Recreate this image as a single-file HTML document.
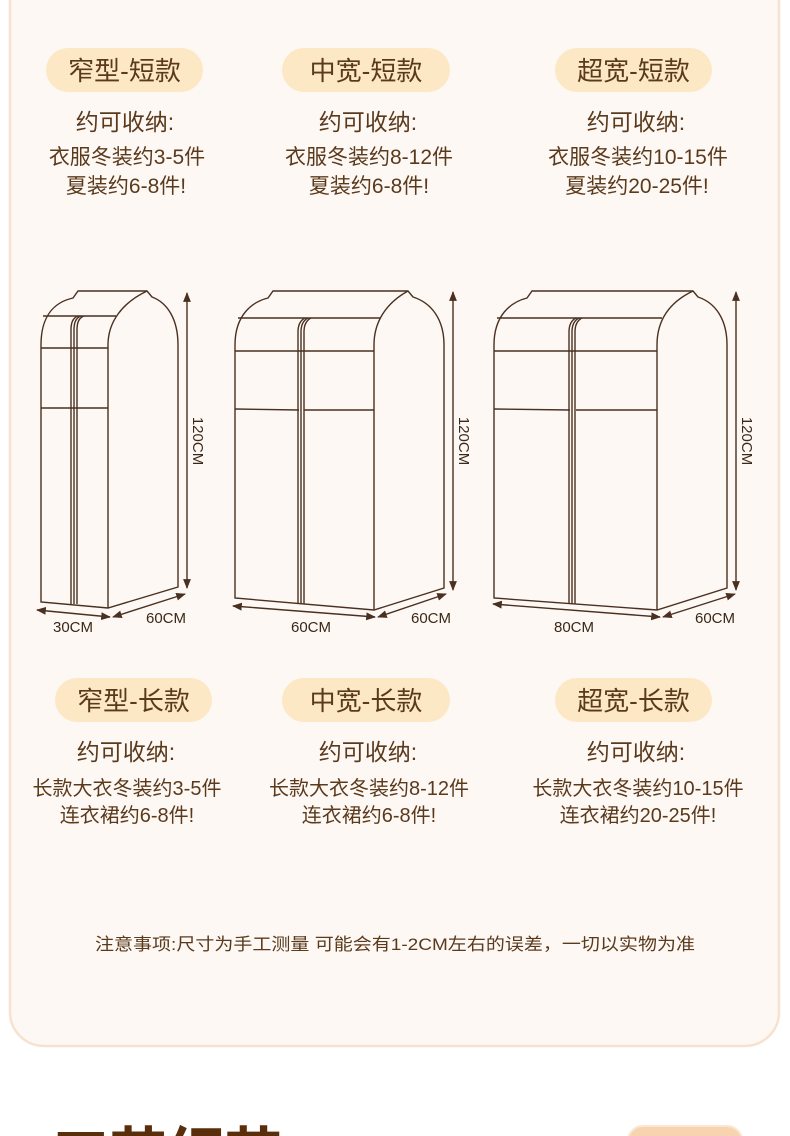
<!DOCTYPE html>
<html><head><meta charset="utf-8"><style>
html,body{margin:0;padding:0;background:#fff;width:790px;height:1136px;overflow:hidden}
svg{display:block}
text{font-family:"Liberation Sans","Noto Sans CJK SC",sans-serif;fill:#5b3a1c}
</style></head><body>
<svg width="790" height="1136" viewBox="0 0 790 1136" xmlns="http://www.w3.org/2000/svg" style="overflow:hidden">
<defs>
<marker id="ar" viewBox="0 0 10 10" refX="9" refY="5" markerWidth="7" markerHeight="7" orient="auto-start-reverse"><path d="M0,1 L10,5 L0,9 Z" fill="#4a3020"/></marker>
</defs>
<rect x="0" y="0" width="790" height="1136" fill="#fff"/>
<rect x="10" y="-40" width="769" height="1086" rx="34" fill="#fdf8f4" stroke="#f6e2cf" stroke-width="2.5"/>

<rect x="46" y="48" width="157" height="44" rx="22" fill="#fde8c6"/>
<rect x="282" y="48" width="168" height="44" rx="22" fill="#fde8c6"/>
<rect x="555" y="48" width="157" height="44" rx="22" fill="#fde8c6"/>
<g font-size="26" text-anchor="middle">
<text x="124.5" y="80">窄型-短款</text>
<text x="366" y="80">中宽-短款</text>
<text x="633.5" y="80">超宽-短款</text>
</g>
<g font-size="23" text-anchor="middle">
<text x="125" y="130">约可收纳:</text>
<text x="368" y="130">约可收纳:</text>
<text x="636" y="130">约可收纳:</text>
</g>
<g font-size="21" text-anchor="middle">
<text x="127" y="164">衣服冬装约3-5件</text>
<text x="126" y="193">夏装约6-8件!</text>
<text x="369" y="164">衣服冬装约8-12件</text>
<text x="369" y="193">夏装约6-8件!</text>
<text x="638" y="164">衣服冬装约10-15件</text>
<text x="637" y="193">夏装约20-25件!</text>
</g>

<g fill="none" stroke="#4a3020" stroke-width="1.4">
<path d="M41,602 L41,345 C41,315 55,302 73,298 L78,291 L147,291 L152,297 C168,303 178,320 178,345 L178,587 L108,608 L41,602 Z" fill="#fdf8f4"/>
<path d="M108,608 L108,345 C108,322 122,303 147,291"/>
<path d="M43,316 L116,316"/>
<path d="M41,348 L108,348 M41,408 L108,408"/>
<path d="M71,604 L71,330 C71,322 73,318 78,316 M74,604 L74,330 C74,322 76,318 81,316 M77,604 L77,330 C77,322 79,318 84,316"/>
<line x1="187" y1="293" x2="187" y2="588" marker-start="url(#ar)" marker-end="url(#ar)"/>
<line x1="37" y1="610" x2="110" y2="617" marker-start="url(#ar)" marker-end="url(#ar)"/>
<line x1="113" y1="617" x2="185" y2="594" marker-start="url(#ar)" marker-end="url(#ar)"/>

<path d="M235,598 L235,345 C235,315 252,302 268,298 L273,291 L408,291 L413,297 C432,303 444,320 444,345 L444,588 L374,610 L235,598 Z" fill="#fdf8f4"/>
<path d="M374,610 L374,345 C374,320 388,302 408,291"/>
<path d="M238,318 L380,318"/>
<path d="M235,351 L374,351 M235,409 L299,410 M304,410 L374,410"/>
<path d="M298,604 L298,332 C298,324 301,320 305,318 M301,604 L301,332 C301,324 304,320 308,318 M304,604 L304,332 C304,324 307,320 311,318"/>
<line x1="453" y1="292" x2="453" y2="590" marker-start="url(#ar)" marker-end="url(#ar)"/>
<line x1="233" y1="606" x2="375" y2="617" marker-start="url(#ar)" marker-end="url(#ar)"/>
<line x1="378" y1="617" x2="446" y2="594" marker-start="url(#ar)" marker-end="url(#ar)"/>

<path d="M494,598 L494,345 C494,315 511,302 527,298 L532,291 L693,291 L698,297 C716,303 727,320 727,345 L727,588 L657,610 L494,598 Z" fill="#fdf8f4"/>
<path d="M657,610 L657,345 C657,320 670,302 693,291"/>
<path d="M497,318 L662,318"/>
<path d="M494,351 L657,351 M494,409 L570,410 M576,410 L657,410"/>
<path d="M569,604 L569,332 C569,324 572,320 576,318 M572,604 L572,332 C572,324 575,320 579,318 M575,604 L575,332 C575,324 578,320 582,318"/>
<line x1="736" y1="292" x2="736" y2="590" marker-start="url(#ar)" marker-end="url(#ar)"/>
<line x1="493" y1="604" x2="660" y2="617" marker-start="url(#ar)" marker-end="url(#ar)"/>
<line x1="663" y1="617" x2="735" y2="594" marker-start="url(#ar)" marker-end="url(#ar)"/>
</g>
<g font-size="15">
<text x="73" y="632" text-anchor="middle" style="fill:#3a2818">30CM</text>
<text x="166" y="623" text-anchor="middle" style="fill:#3a2818">60CM</text>
<text x="311" y="632" text-anchor="middle" style="fill:#3a2818">60CM</text>
<text x="431" y="623" text-anchor="middle" style="fill:#3a2818">60CM</text>
<text x="574" y="632" text-anchor="middle" style="fill:#3a2818">80CM</text>
<text x="715" y="623" text-anchor="middle" style="fill:#3a2818">60CM</text>
<text transform="translate(193,441) rotate(90)" text-anchor="middle" style="fill:#3a2818">120CM</text>
<text transform="translate(459,441) rotate(90)" text-anchor="middle" style="fill:#3a2818">120CM</text>
<text transform="translate(742,441) rotate(90)" text-anchor="middle" style="fill:#3a2818">120CM</text>
</g>

<rect x="55" y="678" width="157" height="44" rx="22" fill="#fde8c6"/>
<rect x="282" y="678" width="168" height="44" rx="22" fill="#fde8c6"/>
<rect x="555" y="678" width="157" height="44" rx="22" fill="#fde8c6"/>
<g font-size="26" text-anchor="middle">
<text x="133.5" y="710">窄型-长款</text>
<text x="366" y="710">中宽-长款</text>
<text x="633.5" y="710">超宽-长款</text>
</g>
<g font-size="23" text-anchor="middle">
<text x="126" y="760">约可收纳:</text>
<text x="368" y="760">约可收纳:</text>
<text x="636" y="760">约可收纳:</text>
</g>
<g font-size="20" text-anchor="middle">
<text x="127" y="795">长款大衣冬装约3-5件</text>
<text x="127" y="822">连衣裙约6-8件!</text>
<text x="369" y="795">长款大衣冬装约8-12件</text>
<text x="369" y="822">连衣裙约6-8件!</text>
<text x="638" y="795">长款大衣冬装约10-15件</text>
<text x="638" y="822">连衣裙约20-25件!</text>
</g>
<text x="95" y="950" font-size="17" textLength="600" lengthAdjust="spacingAndGlyphs">注意事项:尺寸为手工测量 可能会有1-2CM左右的误差，一切以实物为准</text>

<text x="52" y="1180" font-size="64" font-weight="bold" style="fill:#5a2e0a" textLength="230" lengthAdjust="spacingAndGlyphs">工艺细节</text>
<rect x="628" y="1126" width="114" height="30" rx="15" fill="#f8d3b0" stroke="#fbe6d2" stroke-width="2"/>
</svg>
</body></html>
